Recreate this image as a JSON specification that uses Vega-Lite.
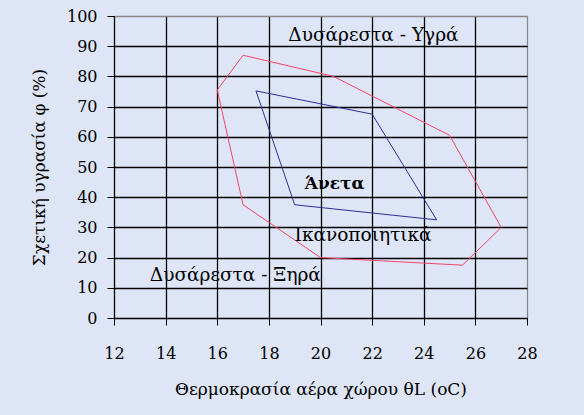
{
  "$schema": "https://vega.github.io/schema/vega-lite/v6.json",
  "width": 413,
  "height": 302,
  "autosize": "none",
  "padding": {"left": 114, "top": 16, "right": 57, "bottom": 97},
  "background": "#dde5f6",
  "config": {
    "view": {"stroke": "#888888", "strokeWidth": 1},
    "font": "DejaVu Serif",
    "axis": {
      "labelFont": "DejaVu Serif",
      "titleFont": "DejaVu Serif",
      "labelFontSize": 16,
      "titleFontSize": 17,
      "labelColor": "black",
      "titleColor": "black",
      "titleFontWeight": "normal",
      "labelOverlap": false,
      "labelFlush": false,
      "domainColor": "black",
      "tickColor": "black",
      "tickSize": 7,
      "gridOpacity": 1,
      "gridWidth": 1.3
    }
  },
  "datasets": {
    "zones": [
      {"zone": "red", "i": 0, "t": 16, "rh": 75.5},
      {"zone": "red", "i": 1, "t": 17, "rh": 87},
      {"zone": "red", "i": 2, "t": 20.5, "rh": 80},
      {"zone": "red", "i": 3, "t": 25, "rh": 60.5},
      {"zone": "red", "i": 4, "t": 27, "rh": 30},
      {"zone": "red", "i": 5, "t": 25.5, "rh": 17.5},
      {"zone": "red", "i": 6, "t": 20, "rh": 20},
      {"zone": "red", "i": 7, "t": 17, "rh": 37.5},
      {"zone": "red", "i": 8, "t": 16, "rh": 75.5},
      {"zone": "blue", "i": 0, "t": 17.5, "rh": 75.2},
      {"zone": "blue", "i": 1, "t": 22, "rh": 67.5},
      {"zone": "blue", "i": 2, "t": 24.5, "rh": 32.5},
      {"zone": "blue", "i": 3, "t": 19, "rh": 37.5},
      {"zone": "blue", "i": 4, "t": 17.5, "rh": 75.2}
    ],
    "labels": [
      {"label": "Δυσάρεστα - Υγρά", "t": 22.05, "rh": 93.7, "bold": false},
      {"label": "Άνετα", "t": 20.55, "rh": 44.4, "bold": true},
      {"label": "Ικανοποιητικά", "t": 21.65, "rh": 27.5, "bold": false},
      {"label": "Δυσάρεστα - Ξηρά", "t": 16.7, "rh": 14.2, "bold": false}
    ]
  },
  "encoding": {
    "x": {
      "field": "t",
      "type": "quantitative",
      "scale": {"domain": [12, 28], "nice": false, "zero": false},
      "axis": {
        "values": [12, 14, 16, 18, 20, 22, 24, 26, 28],
        "title": "Θερμοκρασία αέρα χώρου θL (oC)",
        "labelPadding": 20,
        "titlePadding": 20,
        "gridColor": {"condition": {"test": "datum.value == 28", "value": "#888888"}, "value": "black"}
      }
    },
    "y": {
      "field": "rh",
      "type": "quantitative",
      "scale": {"domain": [0, 100], "nice": false},
      "axis": {
        "values": [0, 10, 20, 30, 40, 50, 60, 70, 80, 90, 100],
        "title": "Σχετική υγρασία φ (%)",
        "labelPadding": 10,
        "titlePadding": 18,
        "gridColor": {"condition": {"test": "datum.value == 100", "value": "#888888"}, "value": "black"}
      }
    }
  },
  "layer": [
    {
      "data": {"name": "zones"},
      "mark": {"type": "line", "strokeWidth": 1},
      "encoding": {
        "order": {"field": "i", "type": "quantitative"},
        "color": {
          "field": "zone",
          "type": "nominal",
          "scale": {"domain": ["red", "blue"], "range": ["#f5456a", "#2e2e99"]},
          "legend": null
        }
      }
    },
    {
      "data": {"name": "labels"},
      "transform": [{"filter": "!datum.bold"}],
      "mark": {"type": "text", "font": "DejaVu Serif", "fontSize": 18.5, "color": "black", "align": "center", "baseline": "middle"},
      "encoding": {
        "text": {"field": "label"}
      }
    },
    {
      "data": {"name": "labels"},
      "transform": [{"filter": "datum.bold"}],
      "mark": {"type": "text", "font": "DejaVu Serif", "fontSize": 17, "fontWeight": "bold", "color": "black", "align": "center", "baseline": "middle"},
      "encoding": {
        "text": {"field": "label"}
      }
    }
  ]
}
